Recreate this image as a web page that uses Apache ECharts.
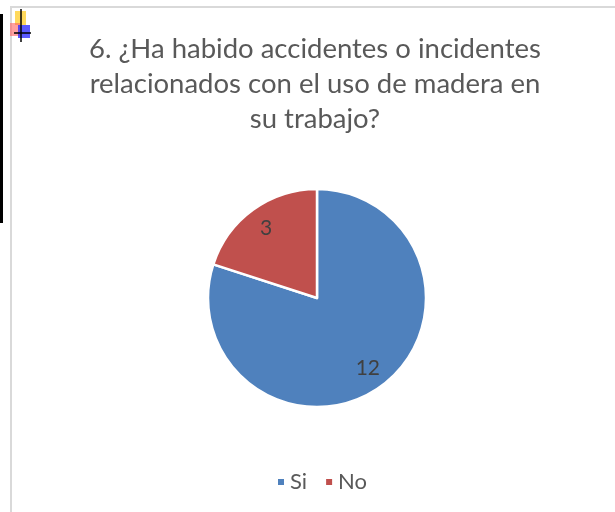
<!DOCTYPE html>
<html>
<head>
<meta charset="utf-8">
<script src="https://cdn.jsdelivr.net/npm/echarts@6/dist/echarts.min.js"></script>
<style>
  html, body { margin: 0; padding: 0; background: #fff; }
  #chart { width: 615px; height: 512px; }
</style>
</head>
<body>
<div id="chart"></div>
<script>
// datos
const categories = ['Si', 'No'];
const values = [12, 3];
const colors = ['#4f81bd', '#c0504d'];
const titleText = '6. ¿Ha habido accidentes o incidentes\nrelacionados con el uso de madera en\nsu trabajo?';

let chart = echarts.init(document.getElementById('chart'), null, { renderer: 'canvas' });

let pieData = categories.map((c, i) => ({
  name: c,
  value: values[i],
  itemStyle: { color: colors[i] }
}));

let option = {
  animation: false,
  color: colors,
  title: {
    text: titleText,
    left: 310,
    top: 27,
    textAlign: 'center',
    textStyle: {
      fontFamily: 'Lato',
      fontWeight: 'normal',
      fontSize: 27.5,
      lineHeight: 35,
      color: '#595959'
    }
  },
  legend: {
    bottom: 14,
    left: 271,
    icon: 'rect',
    itemWidth: 8,
    itemHeight: 8,
    itemGap: 17,
    textStyle: {
      fontFamily: 'Lato',
      fontSize: 22,
      color: '#595959'
    },
    data: categories
  },
  graphic: [
    // marco del grafico
    { type: 'rect', shape: { x: 11, y: 7, width: 620, height: 520 },
      style: { fill: 'none', stroke: '#d9d9d9', lineWidth: 2 }, silent: true },
    { type: 'rect', shape: { x: 0, y: 14, width: 3, height: 209 },
      style: { fill: '#000' }, silent: true },
    // icono arriba a la izquierda
    { type: 'rect', shape: { x: 15, y: 11, width: 11, height: 14 },
      style: { fill: '#ffd54a', opacity: 0.9 }, silent: true },
    { type: 'rect', shape: { x: 10, y: 23, width: 10, height: 13 },
      style: { fill: '#ff6060', opacity: 0.6 }, silent: true },
    { type: 'rect', shape: { x: 18, y: 25, width: 12, height: 13 },
      style: { fill: '#3030ff', opacity: 0.8 }, silent: true },
    { type: 'line', shape: { x1: 21, y1: 9, x2: 21, y2: 42 },
      style: { stroke: '#000', lineWidth: 1.5 }, silent: true },
    { type: 'line', shape: { x1: 14, y1: 33, x2: 31, y2: 33 },
      style: { stroke: '#000', lineWidth: 1.5 }, silent: true }
  ],
  series: [
    {
      type: 'pie',
      center: [317, 298],
      radius: [0, 109],
      startAngle: 90,
      clockwise: true,
      silent: true,
      label: { show: false },
      labelLine: { show: false },
      itemStyle: { borderColor: '#fff', borderWidth: 2.5 },
      data: pieData
    },
    {
      // capa transparente solo para colocar las etiquetas
      type: 'pie',
      center: [317, 298],
      radius: [58, 109],
      startAngle: 90,
      clockwise: true,
      silent: true,
      legendHoverLink: false,
      itemStyle: { color: 'transparent', borderWidth: 0 },
      label: {
        show: true,
        position: 'inside',
        formatter: '{c}',
        fontFamily: 'Lato',
        fontSize: 21,
        color: '#404040'
      },
      labelLine: { show: false },
      data: categories.map((c, i) => ({ name: c + ' ', value: values[i] }))
    }
  ]
};

chart.setOption(option);
</script>
</body>
</html>
